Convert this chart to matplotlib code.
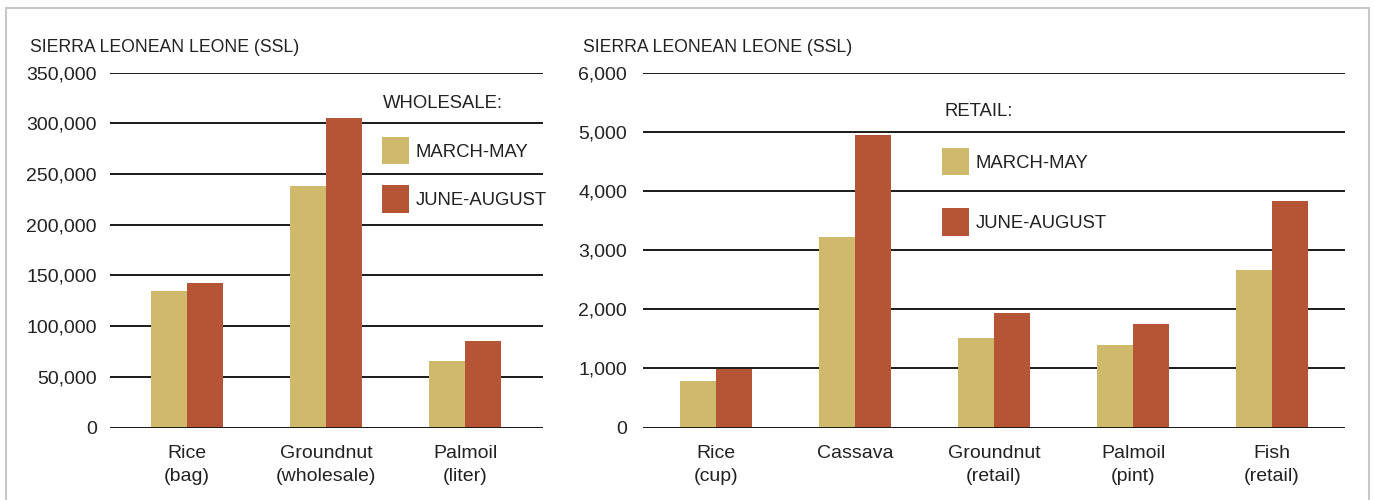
import matplotlib.pyplot as plt
from matplotlib.patches import Rectangle
from matplotlib.ticker import FuncFormatter
import numpy as np

plt.rcParams['font.family'] = ['Liberation Sans', 'DejaVu Sans']

# wholesale prices (SSL)
wholesale_items = ['Rice\n(bag)', 'Groundnut\n(wholesale)', 'Palmoil\n(liter)']
wholesale_mar_may = [135000, 238000, 66000]
wholesale_jun_aug = [143000, 305000, 85000]

# retail prices (SSL)
retail_items = ['Rice\n(cup)', 'Cassava', 'Groundnut\n(retail)', 'Palmoil\n(pint)', 'Fish\n(retail)']
retail_mar_may = [790, 3220, 1520, 1400, 2665]
retail_jun_aug = [990, 4940, 1940, 1755, 3835]

seasons = ['MARCH-MAY', 'JUNE-AUGUST']
colors = ['#cfb96b', '#b65535']
text_color = '#222222'
W, H = 1375, 500

fig = plt.figure(figsize=(13.75, 5), dpi=100)

# light frame round the whole graphic
fig.patches.append(Rectangle((6 / W, -0.1), 1363 / W, 1.1 - 8 / H, transform=fig.transFigure,
                             fill=False, edgecolor='#c8c8c8', lw=1.5))


def bar_panel(rect, items, s1, s2, ymax, ystep, xlim, title, title_xy, legend_anchor,
              spacing, label_x, ypad):
    ax = fig.add_axes(rect)
    x = np.arange(len(items))
    w = 0.26
    ax.bar(x - w / 2, s1, w, color=colors[0], label=seasons[0], zorder=2)
    ax.bar(x + w / 2, s2, w, color=colors[1], label=seasons[1], zorder=2)
    ax.set_ylim(0, ymax)
    ax.set_xlim(*xlim)
    ax.set_yticks(np.arange(0, ymax + 1, ystep))
    ax.yaxis.set_major_formatter(FuncFormatter(lambda v, p: f'{v:,.0f}'))
    ax.set_xticks(x)
    ax.set_xticklabels(items, linespacing=1.5)
    ax.tick_params(axis='both', length=0, labelsize=14, colors=text_color)
    ax.tick_params(axis='y', pad=ypad)
    ax.tick_params(axis='x', pad=12.5)
    ax.yaxis.grid(True, color='#1a1a1a', lw=1.4, zorder=1)
    ax.set_axisbelow(True)
    ax.axhline(0, color='#1a1a1a', lw=1.4, zorder=3)
    for s in ax.spines.values():
        s.set_visible(False)
    fig.text(label_x / W, 1 - 48 / H, 'SIERRA LEONEAN LEONE (SSL)', fontsize=12.7,
             color=text_color, va='center', ha='left')
    fig.text(title_xy[0] / W, 1 - title_xy[1] / H, title, fontsize=13.3,
             color=text_color, va='center', ha='left')
    leg = ax.legend(loc='upper left', bbox_to_anchor=legend_anchor,
                    bbox_transform=fig.transFigure, frameon=False, fontsize=13.3,
                    handlelength=1.45, handleheight=1.9,
                    handletextpad=0.38, labelspacing=spacing, borderpad=0,
                    borderaxespad=0)
    for t in leg.get_texts():
        t.set_color(text_color)
    return ax


axes_bottom = 1 - 427.5 / H
axes_height = (427.5 - 72.7) / H

bar_panel([110 / W, axes_bottom, 433 / W, axes_height], wholesale_items,
          wholesale_mar_may, wholesale_jun_aug, 350000, 50000, (-0.554, 2.561),
          'WHOLESALE:', (383, 103), (382 / W, 1 - 137 / H), 1.14, 30, 9.4)

bar_panel([643 / W, axes_bottom, 702 / W, axes_height], retail_items,
          retail_mar_may, retail_jun_aug, 6000, 1000, (-0.525, 4.525),
          'RETAIL:', (945, 111), (942 / W, 1 - 148 / H), 1.78, 583, 11.5)

fig.savefig('out.png', dpi=100)
